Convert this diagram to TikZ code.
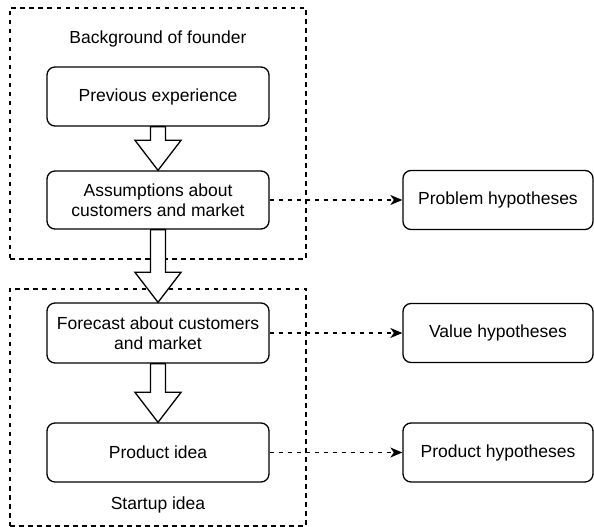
\documentclass[tikz,border=0pt]{standalone}
\usepackage{fontspec}
\setmainfont{Liberation Sans}
\usetikzlibrary{arrows.meta,calc}

\begin{document}
\begin{tikzpicture}[x=1pt,y=1pt,
                    line width=1.3pt,
                    inode/.style = {shape = rectangle,
                                    rounded corners = 8pt,
                                    color = black,
                                    inner sep=0pt,
                                    minimum width = 222pt,
                                    minimum height = 59pt,
                                    align=center,
                                    font=\fontsize{17.5}{20.5}\selectfont,
                                    draw},
                    hnode/.style = {inode,
                                    minimum width = 190pt},
                    gbox/.style = {shape = rectangle,
                                   inner sep=0pt,
                                   minimum width = 296pt,
                                   dash pattern=on 4.5pt off 4.5pt,
                                   draw},
                    glabel/.style = {font=\fontsize{17.5}{20.5}\selectfont},
                    bigarrow/.style = {draw, fill=white, line join=miter},
                    harrow/.style = {dash pattern=on 4.5pt off 4.5pt,
                                     -{Stealth[length=12pt,width=10pt,inset=3.5pt]}}]
		\useasboundingbox (0,0) rectangle (594,527);
		% groups
		\node[gbox, minimum height = 251pt] (founder) at (158,393.5) {};
		\node[gbox, minimum height = 237pt] (startup) at (158,119.5) {};
		\node[glabel] (flabel) at (158,488) {Background of founder};
		\node[glabel] (slabel) at (158,22) {Startup idea};
		% idea chain
		\node[inode] (prev) at (158,430.5) {Previous experience};
		\node[inode, minimum height = 58pt] (assum) at (158,327) {Assumptions about\\customers and market};
		\node[inode, minimum height = 60pt] (fore) at (158,194) {Forecast about customers\\and market};
		\node[inode] (prod) at (158,74.5) {Product idea};
		% hypotheses
		\node[hnode] (probh) at (498,327) {Problem hypotheses};
		\node[hnode] (valh) at (498,194) {Value hypotheses};
		\node[hnode] (prodh) at (498,74.5) {Product hypotheses};
		% block arrows
		\foreach \a/\b in {prev/assum, assum/fore, fore/prod} {
			\draw[bigarrow] ($(\a.south)+(-7.5,0)$) -- ($(\b.north)+(-7.5,30)$)
				-- ($(\b.north)+(-23,30)$) -- (\b.north) -- ($(\b.north)+(23,30)$)
				-- ($(\b.north)+(7.5,30)$) -- ($(\a.south)+(7.5,0)$) -- cycle;
		}
		% dashed links
		\draw[harrow] (assum.east) -- (probh.west);
		\draw[harrow] (fore.east) -- (valh.west);
		\draw[harrow] (prod.east) -- (prodh.west);
	\end{tikzpicture}
\end{document}
